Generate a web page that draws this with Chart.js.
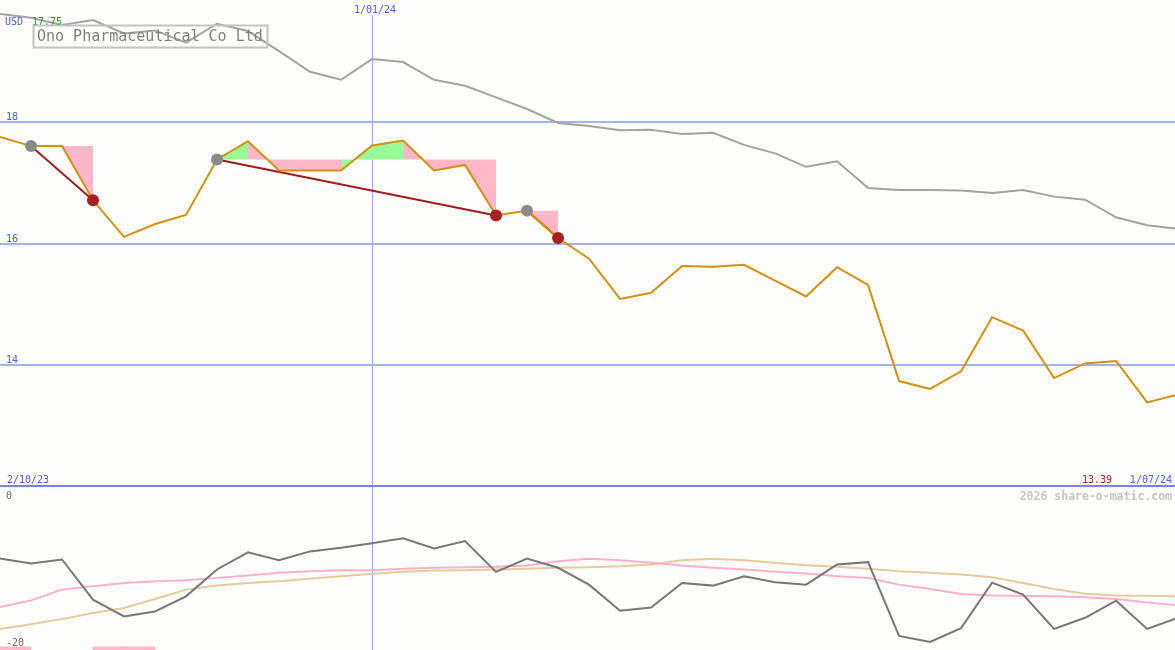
<!DOCTYPE html>
<html>
<head>
<meta charset="utf-8">
<script src="https://cdn.jsdelivr.net/npm/chart.js@4.4.1/dist/chart.umd.min.js"></script>
<style>
  body { margin: 0; background: #fdfefb; }
  #wrap { position: relative; width: 1175px; height: 650px; overflow: hidden; }
  canvas { position: absolute; left: 0; }
  #priceChart { top: 0; }
  #oscChart { top: 487px; }
</style>
</head>
<body>
<div id="wrap">
  <canvas id="priceChart" width="1175" height="487"></canvas>
  <canvas id="oscChart" width="1175" height="163"></canvas>
</div>
<script>
// weekly closes, 9 Oct 2023 .. 1 Jul 2024 (USD)
const priceClose = [17.75, 17.60, 17.60, 16.71, 16.11, 16.32, 16.47, 17.38, 17.68, 17.20,
  17.20, 17.20, 17.61, 17.69, 17.20, 17.29, 16.46, 16.54, 16.09, 15.75,
  15.09, 15.19, 15.63, 15.62, 15.65, 15.39, 15.13, 15.61, 15.32, 13.74,
  13.61, 13.90, 14.79, 14.57, 13.79, 14.03, 14.07, 13.39, 13.52];
// grey comparison line (same scale)
const benchmark = [19.77, 19.71, 19.59, 19.67, 19.45, 19.50, 19.30, 19.61, 19.49, 19.16,
  18.82, 18.69, 19.03, 18.98, 18.69, 18.59, 18.40, 18.21, 17.98, 17.93,
  17.86, 17.87, 17.80, 17.82, 17.62, 17.48, 17.26, 17.35, 16.91, 16.88,
  16.88, 16.87, 16.83, 16.88, 16.77, 16.72, 16.43, 16.30, 16.24];
// trades: entry week -> exit week
const entryWeeks = [1, 7, 17];
const exitWeeks = [3, 16, 18];

// lower panel
const momentum = [-8.77, -9.38, -8.89, -13.83, -15.89, -15.27, -13.42, -10.12, -8.02, -8.98,
  -7.90, -7.44, -6.91, -6.30, -7.53, -6.63, -10.41, -8.77, -9.91, -11.98,
  -15.19, -14.78, -11.77, -12.10, -10.95, -11.69, -11.98, -9.51, -9.22, -18.27,
  -19.01, -17.32, -11.73, -13.21, -17.41, -16.05, -13.95, -17.41, -16.05];
const fastAvg = [-14.73, -13.91, -12.59, -12.19, -11.77, -11.57, -11.44, -11.15, -10.86, -10.53,
  -10.33, -10.21, -10.21, -10.04, -9.91, -9.84, -9.79, -9.63, -9.10, -8.80,
  -8.98, -9.30, -9.63, -9.91, -10.12, -10.41, -10.62, -10.95, -11.15, -11.98,
  -12.51, -13.12, -13.30, -13.33, -13.42, -13.54, -13.74, -14.16, -14.53];
const slowAvg = [-17.41, -16.83, -16.21, -15.47, -14.85, -13.74, -12.59, -12.10, -11.77, -11.57,
  -11.27, -10.95, -10.65, -10.41, -10.25, -10.21, -10.12, -10.04, -9.91, -9.84,
  -9.72, -9.51, -8.98, -8.80, -8.98, -9.30, -9.59, -9.79, -10.04, -10.33,
  -10.53, -10.74, -11.07, -11.77, -12.51, -13.09, -13.30, -13.33, -13.42];
const signalWeeks = [0, 3, 4];
const signalRange = [-20, -19.6];

// axes / labels
const priceTicks = [14, 16, 18];
const oscTicks = [0, -20];
const dateTickWeeks = [12];
const dateTickLabels = ['1/01/24'];
const startLabel = '2/10/23';
const endLabel = '1/07/24';
const highLabel = '17.75';
const lowLabel = '13.39';
const currency = 'USD';
const title = 'Ono Pharmaceutical Co Ltd';
const credit = '2026 share-o-matic.com';

const MONO = '"DejaVu Sans Mono", monospace';
const BLUE_GRID = '#a3b2f0';
const BLUE_TEXT = '#4b5cf0';
const PINK = '#ffb6c9';
const GREEN = '#98fb98';
const X_MAX = 37.9;

const toXY = arr => arr.map((v, i) => ({ x: i, y: v }));

function text(ctx, str, x, y, color, font, align) {
  ctx.save();
  ctx.font = font;
  ctx.fillStyle = color;
  ctx.textAlign = align || 'left';
  ctx.textBaseline = 'alphabetic';
  ctx.fillText(str, x, y);
  ctx.restore();
}

// datasets for the price panel
const priceSets = [
  { data: toXY(priceClose), borderColor: '#d4900c', borderWidth: 2, pointRadius: 0, order: 1 },
  { data: toXY(benchmark), borderColor: '#a3a3a3', borderWidth: 2, pointRadius: 0, order: 3 }
];

entryWeeks.forEach((entry, t) => {
  const exit = exitWeeks[t];
  const level = priceClose[entry];
  const pts = [];
  for (let i = entry; i <= exit; i++) pts.push({ x: i, y: level });
  // filled area between entry level and price
  priceSets.push({
    data: pts,
    borderColor: 'transparent',
    borderWidth: 1,
    pointRadius: 0,
    backgroundColor: PINK,
    fill: 0,
    order: 6,
    segment: {
      backgroundColor: c => priceClose[entry + c.p1DataIndex] >= level ? GREEN : PINK
    }
  });
  // trade line
  priceSets.push({
    data: [{ x: entry, y: priceClose[entry] }, { x: exit, y: priceClose[exit] }],
    borderColor: '#a01c1c', borderWidth: 2, pointRadius: 0, order: 2
  });
});

priceSets.push({
  data: entryWeeks.map(i => ({ x: i, y: priceClose[i] })),
  showLine: false, pointRadius: 6, pointBorderWidth: 0,
  pointBackgroundColor: '#8a8a8a', order: 0
});
priceSets.push({
  data: exitWeeks.map(i => ({ x: i, y: priceClose[i] })),
  showLine: false, pointRadius: 6, pointBorderWidth: 0,
  pointBackgroundColor: '#a82020', order: 0
});

const priceLabels = {
  id: 'priceLabels',
  afterDraw(chart) {
    const ctx = chart.ctx;
    const xs = chart.scales.x, ys = chart.scales.y;
    const small = '10px ' + MONO;
    priceTicks.forEach(v => text(ctx, String(v), 6, ys.getPixelForValue(v) - 2, BLUE_TEXT, small));
    text(ctx, currency, 5, 25, BLUE_TEXT, small);
    text(ctx, highLabel, 32, 25, '#22a022', small);
    dateTickWeeks.forEach((w, i) => {
      const px = xs.getPixelForValue(w);
      ctx.save();
      ctx.fillStyle = '#fdfefb';
      ctx.fillRect(px - 2, 0, 4, 15);
      ctx.restore();
      text(ctx, dateTickLabels[i], px + 3, 13, BLUE_TEXT, small, 'center');
    });
    text(ctx, startLabel, 7, 483, BLUE_TEXT, small);
    text(ctx, endLabel, 1172, 483, BLUE_TEXT, small, 'right');
    text(ctx, lowLabel, 1112, 483, '#a02020', small, 'right');
    // title box
    ctx.save();
    ctx.strokeStyle = '#c4c4c4';
    ctx.lineWidth = 2;
    ctx.strokeRect(33.5, 25.5, 234, 22);
    ctx.restore();
    text(ctx, title, 37, 41, '#808080', '15px ' + MONO);
    // panel separator
    ctx.save();
    ctx.strokeStyle = '#7482ee';
    ctx.lineWidth = 2;
    ctx.beginPath();
    ctx.moveTo(chart.chartArea.left, chart.chartArea.bottom - 1);
    ctx.lineTo(chart.chartArea.right, chart.chartArea.bottom - 1);
    ctx.stroke();
    ctx.restore();
  }
};

new Chart(document.getElementById('priceChart'), {
  type: 'line',
  data: { datasets: priceSets },
  options: {
    responsive: false,
    animation: false,
    layout: { padding: 0, autoPadding: false },
    elements: { line: { tension: 0 } },
    plugins: { legend: { display: false }, tooltip: { enabled: false } },
    scales: {
      x: {
        type: 'linear', min: 0, max: X_MAX,
        afterBuildTicks: s => { s.ticks = dateTickWeeks.map(v => ({ value: v })); },
        ticks: { display: false },
        grid: { color: '#98a8f4', lineWidth: 1, drawTicks: false },
        border: { display: false }
      },
      y: {
        min: 12, max: 20,
        afterBuildTicks: s => { s.ticks = priceTicks.map(v => ({ value: v })); },
        ticks: { display: false },
        grid: { color: BLUE_GRID, lineWidth: 2, drawTicks: false },
        border: { display: false }
      }
    }
  },
  plugins: [priceLabels]
});

// lower panel
const oscLabels = {
  id: 'oscLabels',
  afterDraw(chart) {
    const ctx = chart.ctx;
    const ys = chart.scales.y;
    const small = '10px ' + MONO;
    text(ctx, String(oscTicks[0]), 6, ys.getPixelForValue(oscTicks[0]) + 12, '#6c6c6c', small);
    text(ctx, String(oscTicks[1]), 6, ys.getPixelForValue(oscTicks[1]) - 4, '#6c6c6c', small);
    text(ctx, credit, 1172, 13, '#c6c6c6', 'bold 11.5px ' + MONO, 'right');
  }
};

new Chart(document.getElementById('oscChart'), {
  type: 'line',
  data: {
    datasets: [
      { data: toXY(momentum), borderColor: '#777777', borderWidth: 2, pointRadius: 0, order: 1 },
      { data: toXY(fastAvg), borderColor: '#ffb0c8', borderWidth: 2, pointRadius: 0, order: 2 },
      { data: toXY(slowAvg), borderColor: '#e3cc9c', borderWidth: 2, pointRadius: 0, order: 3 },
      {
        type: 'bar',
        data: signalWeeks.map(w => ({ x: w + 0.5, y: signalRange })),
        backgroundColor: PINK, borderWidth: 0,
        barPercentage: 1, categoryPercentage: 1, order: 4
      }
    ]
  },
  options: {
    responsive: false,
    animation: false,
    layout: { padding: 0, autoPadding: false },
    elements: { line: { tension: 0 } },
    plugins: { legend: { display: false }, tooltip: { enabled: false } },
    scales: {
      x: {
        type: 'linear', min: 0, max: X_MAX, offset: false,
        afterBuildTicks: s => { s.ticks = dateTickWeeks.map(v => ({ value: v })); },
        ticks: { display: false },
        grid: { color: '#98a8f4', lineWidth: 1, drawTicks: false, offset: false },
        border: { display: false }
      },
      y: {
        min: -20, max: 0,
        ticks: { display: false },
        grid: { display: false, drawTicks: false },
        border: { display: false }
      }
    }
  },
  plugins: [oscLabels]
});
</script>
</body>
</html>
